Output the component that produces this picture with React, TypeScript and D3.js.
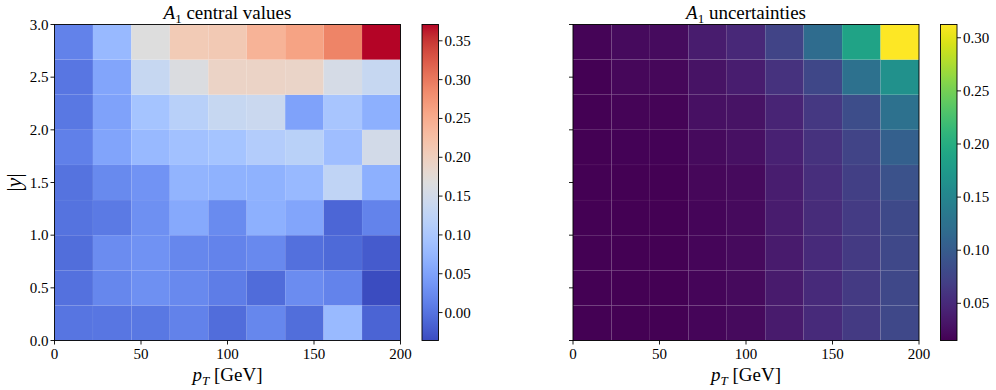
import React from "react";
import * as d3 from "d3";

// pT bin edges (9 bins from 0 to 200 GeV) and |y| bin edges (9 bins from 0 to 3)
const ptEdges = d3.range(10).map((i) => (i * 200) / 9);
const yEdges = d3.range(10).map((i) => (i * 3) / 9);

// Central values, rows from |y| bin 0 (bottom) to bin 8 (top), columns pT bins
const centralRow0 = [0.002, 0.003, 0.005, 0.015, -0.006, 0.02, -0.005, 0.08, -0.014];
const centralRow1 = [-0.002, 0.02, 0.03, 0.022, 0.01, -0.007, 0.026, 0.016, -0.036];
const centralRow2 = [-0.005, 0.026, 0.032, 0.02, 0.016, 0.022, -0.003, -0.009, -0.022];
const centralRow3 = [0.0, 0.007, 0.03, 0.058, 0.024, 0.066, 0.053, -0.012, 0.016];
const centralRow4 = [0.0, 0.023, 0.033, 0.072, 0.068, 0.068, 0.078, 0.127, 0.066];
const centralRow5 = [0.013, 0.052, 0.078, 0.09, 0.094, 0.11, 0.118, 0.086, 0.151];
const centralRow6 = [0.005, 0.05, 0.094, 0.117, 0.135, 0.139, 0.05, 0.097, 0.066];
const centralRow7 = [0.003, 0.053, 0.135, 0.163, 0.192, 0.192, 0.19, 0.155, 0.135];
const centralRow8 = [0.015, 0.078, 0.167, 0.208, 0.21, 0.241, 0.26, 0.29, 0.371];
const centralRows = [centralRow0, centralRow1, centralRow2, centralRow3, centralRow4, centralRow5, centralRow6, centralRow7, centralRow8];

const uncRow0 = [0.015, 0.016, 0.015, 0.019, 0.022, 0.036, 0.05, 0.065, 0.079];
const uncRow1 = [0.015, 0.016, 0.016, 0.019, 0.022, 0.037, 0.051, 0.066, 0.08];
const uncRow2 = [0.015, 0.016, 0.016, 0.019, 0.022, 0.037, 0.051, 0.066, 0.08];
const uncRow3 = [0.015, 0.016, 0.016, 0.019, 0.022, 0.038, 0.052, 0.067, 0.081];
const uncRow4 = [0.015, 0.016, 0.016, 0.02, 0.023, 0.039, 0.054, 0.07, 0.09];
const uncRow5 = [0.015, 0.017, 0.017, 0.022, 0.027, 0.042, 0.057, 0.075, 0.105];
const uncRow6 = [0.0154, 0.018, 0.018, 0.027, 0.029, 0.045, 0.063, 0.084, 0.125];
const uncRow7 = [0.0154, 0.02, 0.02, 0.03, 0.039, 0.057, 0.078, 0.125, 0.164];
const uncRow8 = [0.018, 0.023, 0.024, 0.038, 0.048, 0.075, 0.119, 0.188, 0.3125];
const uncRows = [uncRow0, uncRow1, uncRow2, uncRow3, uncRow4, uncRow5, uncRow6, uncRow7, uncRow8];

const xTicks = [0, 50, 100, 150, 200];
const yTicks = [0, 0.5, 1.0, 1.5, 2.0, 2.5, 3.0];
const centralCbTicks = [0, 0.05, 0.1, 0.15, 0.2, 0.25, 0.3, 0.35];
const uncCbTicks = [0.05, 0.1, 0.15, 0.2, 0.25, 0.3];

// matplotlib coolwarm (Moreland) control points
const coolwarmStops = [
  [59, 76, 192], [68, 90, 204], [77, 104, 215], [87, 117, 225], [98, 130, 234],
  [108, 142, 241], [119, 154, 247], [130, 165, 251], [141, 176, 254], [152, 185, 255],
  [163, 194, 255], [174, 201, 253], [184, 208, 249], [194, 213, 244], [204, 217, 238],
  [213, 219, 230], [221, 221, 221], [229, 216, 209], [236, 211, 197], [241, 204, 184],
  [245, 196, 172], [247, 187, 160], [247, 177, 148], [247, 166, 135], [244, 154, 123],
  [241, 141, 111], [236, 127, 99], [229, 112, 88], [222, 96, 77], [213, 80, 66],
  [203, 62, 56], [192, 40, 47], [180, 4, 38],
];
const coolwarm = d3.piecewise(d3.interpolateRgb, coolwarmStops.map((c) => d3.rgb(c[0], c[1], c[2]).toString()));

const FONT = "Liberation Serif, DejaVu Serif, serif";
const txt = { fontFamily: FONT };

type PanelProps = {
  x0: number;
  rows: number[][];
  interp: (t: number) => string;
  gradId: string;
  cbTicks: number[];
  title: string;
  showYLabels: boolean;
};

const TOP = 24.5;
const BOTTOM = 340.5;
const PW = 346;
const CB_GAP = 21.5;
const CB_W = 16.5;

function Panel({ x0, rows, interp, gradId, cbTicks, title, showYLabels }: PanelProps) {
  const xs = d3.scaleLinear().domain([0, 200]).range([x0, x0 + PW]);
  const ys = d3.scaleLinear().domain([0, 3]).range([BOTTOM, TOP]);
  const all = rows.flat();
  const vmin = d3.min(all) as number;
  const vmax = d3.max(all) as number;
  const color = d3.scaleSequential(interp).domain([vmin, vmax]);
  const cbX = x0 + PW + CB_GAP;
  const cbScale = d3.scaleLinear().domain([vmin, vmax]).range([BOTTOM, TOP]);
  const stops = d3.range(0, 1.0001, 0.02);
  const cx = (x0 + x0 + PW) / 2;
  return (
    <g>
      <defs>
        <linearGradient id={gradId} x1="0" y1="1" x2="0" y2="0">
          {stops.map((t) => (
            <stop key={t} offset={t} stopColor={interp(t)} />
          ))}
        </linearGradient>
      </defs>
      {rows.map((row, ri) =>
        row.map((v, ci) => (
          <rect
            key={`${ri}-${ci}`}
            x={xs(ptEdges[ci])}
            y={ys(yEdges[ri + 1])}
            width={xs(ptEdges[ci + 1]) - xs(ptEdges[ci])}
            height={ys(yEdges[ri]) - ys(yEdges[ri + 1])}
            fill={color(v)}
            stroke="rgba(255,255,255,0.03)"
            strokeWidth={0.7}
          />
        ))
      )}
      <rect x={x0} y={TOP} width={PW} height={BOTTOM - TOP} fill="none" stroke="#000" strokeWidth={0.9} />
      {xTicks.map((t) => (
        <g key={t}>
          <line x1={xs(t)} x2={xs(t)} y1={BOTTOM} y2={BOTTOM + 4} stroke="#000" strokeWidth={0.9} />
          <text x={xs(t)} y={BOTTOM + 18} textAnchor="middle" style={txt} fontSize={15}>
            {t}
          </text>
        </g>
      ))}
      {yTicks.map((t) => (
        <g key={t}>
          <line x1={x0 - 4} x2={x0} y1={ys(t)} y2={ys(t)} stroke="#000" strokeWidth={0.9} />
          {showYLabels && (
            <text x={x0 - 6} y={ys(t) + 5} textAnchor="end" style={txt} fontSize={15}>
              {t.toFixed(1)}
            </text>
          )}
        </g>
      ))}
      <text x={cx} y={381} textAnchor="middle" style={txt} fontSize={19}>
        <tspan fontStyle="italic">p</tspan>
        <tspan fontStyle="italic" fontSize={13} dy={4}>T</tspan>
        <tspan dy={-4}> [GeV]</tspan>
      </text>
      <text x={cx} y={19} textAnchor="middle" style={txt} fontSize={19}>
        <tspan fontStyle="italic">A</tspan>
        <tspan fontSize={13} dy={4}>1</tspan>
        <tspan dy={-4}> {title}</tspan>
      </text>
      {showYLabels && (
        <text
          transform={`translate(21, ${(TOP + BOTTOM) / 2}) rotate(-90)`}
          textAnchor="middle"
          style={txt}
          fontSize={22}
        >
          |<tspan fontStyle="italic">y</tspan>|
        </text>
      )}
      <rect x={cbX} y={TOP} width={CB_W} height={BOTTOM - TOP} fill={`url(#${gradId})`} stroke="#000" strokeWidth={0.9} />
      {cbTicks.map((t) => (
        <g key={t}>
          <line x1={cbX + CB_W} x2={cbX + CB_W + 4} y1={cbScale(t)} y2={cbScale(t)} stroke="#000" strokeWidth={0.9} />
          <text x={cbX + CB_W + 6} y={cbScale(t) + 5} style={txt} fontSize={15}>
            {t.toFixed(2)}
          </text>
        </g>
      ))}
    </g>
  );
}

export default function App() {
  return (
    <svg width={996} height={390} style={{ position: "absolute", left: 0, top: 0, background: "#fff" }}>
      <rect width={996} height={390} fill="#fff" />
      <Panel x0={54.5} rows={centralRows} interp={coolwarm} gradId="cw" cbTicks={centralCbTicks} title="central values" showYLabels={true} />
      <Panel x0={573} rows={uncRows} interp={d3.interpolateViridis} gradId="vr" cbTicks={uncCbTicks} title="uncertainties" showYLabels={false} />
    </svg>
  );
}
